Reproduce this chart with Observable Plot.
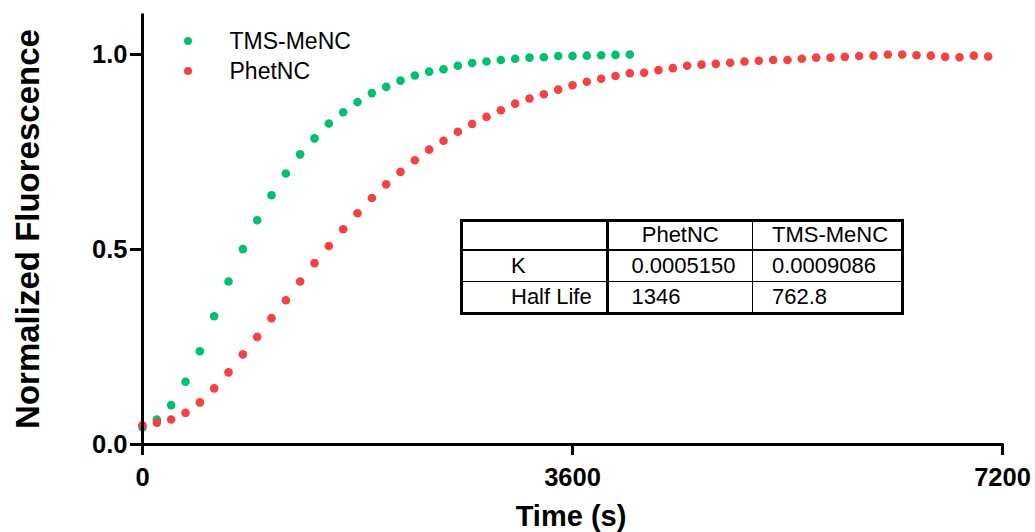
<!DOCTYPE html>
<html>
<head>
<meta charset="utf-8">
<script src="https://cdn.jsdelivr.net/npm/d3@7"></script>
<script src="https://cdn.jsdelivr.net/npm/@observablehq/plot@0.6"></script>
<style>
  body { margin: 0; background: #fff; }
  #wrap { position: relative; width: 1035px; height: 532px; font-family: "Liberation Sans", Arial, sans-serif; color: #000; }
  #wrap svg { position: absolute; left: 0; top: 0; }
  .ylabel { position: absolute; left: 27px; top: 229px; transform: translate(-50%, -50%) rotate(-90deg); white-space: nowrap; font-weight: bold; font-size: 33px; line-height: 1; }
  .xlabel { position: absolute; left: 571px; top: 516px; transform: translate(-50%, -50%); white-space: nowrap; font-weight: bold; font-size: 29px; line-height: 1; }
  .legend { position: absolute; left: 0; top: 26px; }
  .legend .row { position: relative; height: 30px; line-height: 30px; font-size: 23px; }
  .legend .dot { position: absolute; left: 183.5px; top: 11px; width: 8px; height: 8px; border-radius: 50%; }
  .legend .txt { position: absolute; left: 229.5px; top: 0; white-space: nowrap; }
  table.stats { position: absolute; left: 459.5px; top: 218.5px; border: 3px solid #000; border-spacing: 0; border-collapse: separate; font-size: 22px; }
  table.stats td { box-sizing: border-box; padding: 0; vertical-align: middle; line-height: 1; white-space: nowrap; }
</style>
</head>
<body>
<div id="wrap"></div>
<script>
// ---- data ----
const sampleInterval = 120; // seconds between readings
const seriesNames = ["TMS-MeNC", "PhetNC"];
const seriesColors = ["#00bf6f", "#f44141"];
const tmsMeNC = [0.044, 0.064, 0.101, 0.161, 0.239, 0.329, 0.418, 0.501, 0.575, 0.639,
  0.695, 0.744, 0.785, 0.823, 0.852, 0.878, 0.901, 0.917, 0.933, 0.946,
  0.956, 0.962, 0.971, 0.978, 0.982, 0.986, 0.989, 0.992, 0.993, 0.996,
  0.996, 0.997, 0.998, 0.999, 1.000];
const phetNC = [0.049, 0.056, 0.064, 0.081, 0.108, 0.144, 0.185, 0.231, 0.276, 0.324,
  0.370, 0.418, 0.465, 0.509, 0.552, 0.593, 0.632, 0.667, 0.699, 0.729,
  0.756, 0.779, 0.802, 0.822, 0.840, 0.857, 0.874, 0.887, 0.898, 0.910,
  0.921, 0.930, 0.938, 0.945, 0.952, 0.953, 0.960, 0.965, 0.971, 0.974,
  0.976, 0.979, 0.982, 0.984, 0.986, 0.986, 0.989, 0.992, 0.992, 0.994,
  0.996, 0.997, 1.000, 1.000, 0.998, 0.997, 0.994, 0.993, 0.997, 0.995];
const xTicks = [0, 3600, 7200];
const yTicks = [0, 0.5, 1.0];
const xDomain = [0, 7200];
const yDomain = [0, 1.1];
const tableHeader = ["", "PhetNC", "TMS-MeNC"];
const tableRows = [
  ["K", "0.0005150", "0.0009086"],
  ["Half Life", "1346", "762.8"]
];

// ---- build ----
const points = [
  ...tmsMeNC.map((v, i) => ({ t: i * sampleInterval, v, s: seriesNames[0] })),
  ...phetNC.map((v, i) => ({ t: i * sampleInterval, v, s: seriesNames[1] }))
];

const font = "Liberation Sans, Arial, sans-serif";
const chart = Plot.plot({
  width: 1035,
  height: 532,
  marginLeft: 142,
  marginRight: 33,
  marginTop: 15,
  marginBottom: 88,
  x: { domain: xDomain },
  y: { domain: yDomain },
  color: { domain: seriesNames, range: seriesColors },
  style: { fontFamily: font, background: "white", color: "black", overflow: "visible" },
  marks: [
    Plot.dot(points, { x: "t", y: "v", fill: "s", r: 4.3 }),
    Plot.ruleX([xDomain[0]], { y1: yDomain[0], y2: yDomain[1], strokeWidth: 3, strokeLinecap: "square" }),
    Plot.ruleY([yDomain[0]], { x1: xDomain[0], x2: xDomain[1], strokeWidth: 3, strokeLinecap: "square" }),
    Plot.axisX({ ticks: xTicks, tickSize: 11, tickPadding: 12, strokeWidth: 3, fontSize: 25.5, fontWeight: "bold", label: null, tickFormat: d3.format("d") }),
    Plot.axisY({ ticks: yTicks, tickSize: 12, tickPadding: 3, strokeWidth: 3, fontSize: 25.5, fontWeight: "bold", label: null, tickFormat: d3.format(".1f") })
  ]
});

const wrap = document.getElementById("wrap");
wrap.appendChild(chart);

const yl = document.createElement("div");
yl.className = "ylabel"; yl.textContent = "Normalized Fluorescence";
wrap.appendChild(yl);
const xl = document.createElement("div");
xl.className = "xlabel"; xl.textContent = "Time (s)";
wrap.appendChild(xl);

// legend
const leg = document.createElement("div");
leg.className = "legend";
seriesNames.forEach((name, i) => {
  const row = document.createElement("div"); row.className = "row";
  const dot = document.createElement("span"); dot.className = "dot"; dot.style.background = seriesColors[i];
  const txt = document.createElement("span"); txt.className = "txt"; txt.textContent = name;
  row.appendChild(dot); row.appendChild(txt); leg.appendChild(row);
});
wrap.appendChild(leg);

// stats table
const colWidths = [146, 144.5, 147.5];
const rowHeights = [29.5, 31, 30];
const tbl = document.createElement("table");
tbl.className = "stats";
[tableHeader, ...tableRows].forEach((r, ri) => {
  const tr = document.createElement("tr");
  r.forEach((c, ci) => {
    const td = document.createElement("td");
    td.textContent = c;
    td.style.width = colWidths[ci] + "px";
    td.style.minWidth = colWidths[ci] + "px";
    td.style.height = rowHeights[ri] + "px";
    if (ci < 2) td.style.borderRight = (ci === 0 ? "3px" : "1px") + " solid #000";
    if (ri < 2) td.style.borderBottom = (ri === 0 ? "2px" : "1px") + " solid #000";
    if (ci === 0) { td.style.paddingLeft = "48.5px"; td.style.textAlign = "left"; }
    else if (ci === 1) {
      if (ri === 0) td.style.textAlign = "center";
      else { td.style.textAlign = "left"; td.style.paddingLeft = "23px"; }
    } else { td.style.textAlign = "left"; td.style.paddingLeft = "19px"; }
    tr.appendChild(td);
  });
  tbl.appendChild(tr);
});
wrap.appendChild(tbl);
</script>
</body>
</html>
